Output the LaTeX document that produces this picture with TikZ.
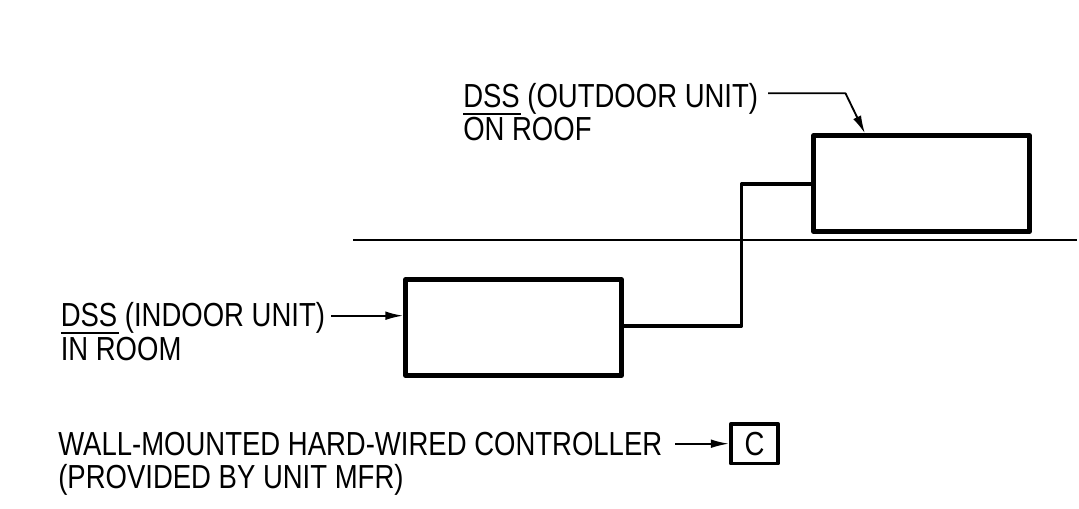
\documentclass[tikz,border=0pt]{standalone}
\usepackage{fontspec}
\setmainfont[FakeStretch=0.825]{Liberation Sans}
\usetikzlibrary{arrows.meta}
\newcommand{\dssul}{\leavevmode\rlap{\rule[-5.4pt]{43.5pt}{1.2pt}}DSS}
\tikzset{
  unitbox/.style={draw=black,line width=3.3pt,line join=round,minimum width=162pt,minimum height=72pt,inner sep=0pt},
  ctrlbox/.style={draw=black,line width=2.7pt,line join=round,minimum width=35.6pt,minimum height=29.6pt,inner sep=0pt,font=\fontsize{25}{25}\selectfont},
  lbl/.style={anchor=north west,inner sep=0pt,align=left,font=\fontsize{25}{25}\selectfont},
  wire/.style={line width=2.7pt,line join=round},
  leader/.style={line width=1.4pt,line join=round,-{Latex[length=13.5pt,width=6.5pt]}},
  floorline/.style={line width=1.6pt}
}
\begin{document}
\begin{tikzpicture}[x=0.75pt,y=-0.75pt]
\useasboundingbox (0,0) rectangle (1079,508);
\node[unitbox] (roofunit) at (921.5,183.5) {};
\node[unitbox] (roomunit) at (513.5,327.5) {};
\node[ctrlbox] (ctrl) at (754.5,443.7) {C\hspace{3pt}};
\node[lbl] (roofl) at (463,83) {\dssul{} (OUTDOOR UNIT)\\ON ROOF};
\node[lbl] (rooml) at (60.5,302.4) {\dssul{} (INDOOR UNIT)\\IN ROOM};
\node[lbl] (ctrll) at (58,431.7) {WALL-MOUNTED HARD-WIRED CONTROLLER\\(PROVIDED BY UNIT MFR)};
\coordinate (floorA) at (353,240);
\coordinate (floorB) at (1077,240);
\coordinate (wireIn) at (roomunit.east |- 0,326);
\coordinate (wireOut) at (roofunit.west |- 0,184);
\coordinate (roofstart) at (768,93.3);
\coordinate (roofbend) at (845.5,93.3);
\coordinate (rooftip) at (865,133.5);
\coordinate (roomstart) at (331,315.7);
\coordinate (roomtip) at (roomunit.west |- roomstart);
\coordinate (ctrlstart) at (675,443.7);
\draw[floorline] (floorA) -- (floorB);
\draw[wire] (wireIn) -- (741.5,326) -- (741.5,184) -- (wireOut);
\draw[leader] (roofstart) -- (roofbend) -- (rooftip);
\draw[leader] (roomstart) -- (roomtip);
\draw[leader] (ctrlstart) -- (ctrl.west);
\end{tikzpicture}
\end{document}
